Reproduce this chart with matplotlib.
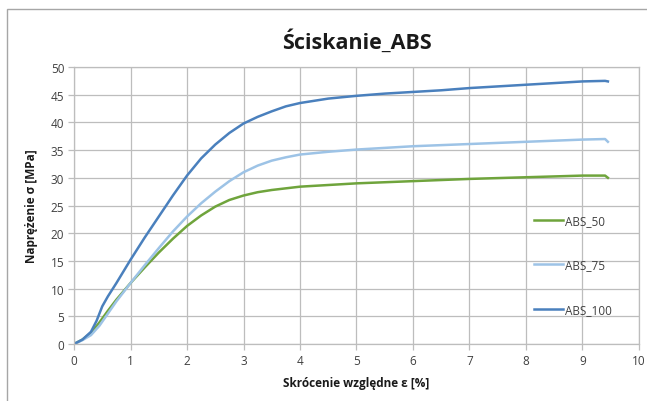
import matplotlib
matplotlib.use('Agg')
import matplotlib.pyplot as plt
from matplotlib.patches import Rectangle

plt.rcParams['font.family'] = ['Open Sans', 'DejaVu Sans']

# odkształcenie [%] i naprężenie [MPa]
eps_50 = [0, 0.15, 0.3, 0.45, 0.6, 0.75, 1.0, 1.25, 1.5, 1.75, 2.0, 2.25, 2.5, 2.75, 3.0,
          3.25, 3.5, 3.75, 4.0, 4.5, 5.0, 5.5, 6.0, 6.5, 7.0, 7.5, 8.0, 8.5, 9.0, 9.4, 9.45]
sig_50 = [0, 0.8, 2.0, 3.9, 6.0, 8.0, 11.0, 13.8, 16.5, 19.0, 21.3, 23.2, 24.8, 26.0, 26.8,
          27.4, 27.8, 28.1, 28.4, 28.7, 29.0, 29.2, 29.4, 29.6, 29.8, 29.95, 30.1, 30.25, 30.4, 30.4, 30.0]

eps_75 = [0, 0.15, 0.3, 0.45, 0.6, 0.75, 1.0, 1.25, 1.5, 1.75, 2.0, 2.25, 2.5, 2.75, 3.0,
          3.25, 3.5, 3.75, 4.0, 4.5, 5.0, 5.5, 6.0, 6.5, 7.0, 7.5, 8.0, 8.5, 9.0, 9.4, 9.45]
sig_75 = [0, 0.7, 1.6, 3.3, 5.5, 7.7, 11.0, 14.2, 17.3, 20.3, 23.0, 25.4, 27.5, 29.4, 31.0,
          32.2, 33.1, 33.7, 34.2, 34.7, 35.1, 35.4, 35.7, 35.9, 36.1, 36.3, 36.5, 36.7, 36.9, 37.0, 36.5]

eps_100 = [0, 0.15, 0.3, 0.4, 0.5, 0.6, 0.75, 1.0, 1.25, 1.5, 1.75, 2.0, 2.25, 2.5, 2.75, 3.0,
           3.25, 3.5, 3.75, 4.0, 4.5, 5.0, 5.5, 6.0, 6.5, 7.0, 7.5, 8.0, 8.5, 9.0, 9.4, 9.45]
sig_100 = [0, 0.8, 2.2, 4.2, 6.8, 8.6, 11.0, 15.2, 19.2, 23.0, 26.8, 30.4, 33.5, 36.0, 38.1, 39.8,
           41.0, 42.0, 42.9, 43.5, 44.3, 44.8, 45.2, 45.5, 45.8, 46.2, 46.5, 46.8, 47.1, 47.4, 47.5, 47.4]

labels = ['ABS_50', 'ABS_75', 'ABS_100']
colors = ['#6fa43c', '#9dc3e6', '#4a80bd']

fig = plt.figure(figsize=(6.47, 4.02), dpi=100)
ax = fig.add_axes([0.1144, 0.1418, 0.8732, 0.689])

# ramka wykresu
fig.patches.append(Rectangle((7 / 647, -0.1), 1.2, 1 - 10 / 402 + 0.1, transform=fig.transFigure,
                             fill=False, edgecolor='#a6a6a6', linewidth=1))

for e, s, lab, c in zip([eps_50, eps_75, eps_100], [sig_50, sig_75, sig_100], labels, colors):
    ax.plot(e, s, color=c, linewidth=1.8, label=lab)

ax.set_xlim(0, 10)
ax.set_ylim(0, 50)
ax.set_xticks(range(0, 11))
ax.set_yticks(range(0, 51, 5))
ax.grid(True, color='#bdbdbd', linewidth=0.9)
ax.set_axisbelow(True)
for sp in ax.spines.values():
    sp.set_color('#bdbdbd')
    sp.set_linewidth(0.9)
ax.tick_params(colors='#bdbdbd', labelcolor='#404040', labelsize=8.5, length=4, width=0.9, pad=3)

ax.set_title('Ściskanie_ABS', fontsize=15.5, fontweight='bold', pad=14, color='#1a1a1a')
ax.set_xlabel('Skrócenie względne ε [%]', fontsize=8.5, fontweight='bold', labelpad=7, color='#1a1a1a')
ax.set_ylabel('Naprężenie σ [MPa]', fontsize=8.5, fontweight='bold', labelpad=9, color='#1a1a1a')

ax.legend(loc='center left', bbox_to_anchor=(0.795, 0.285), frameon=False, fontsize=8.5,
          handlelength=2.5, handletextpad=0.15, labelspacing=2.7, labelcolor='#404040')

fig.savefig('out.png', dpi=100)
